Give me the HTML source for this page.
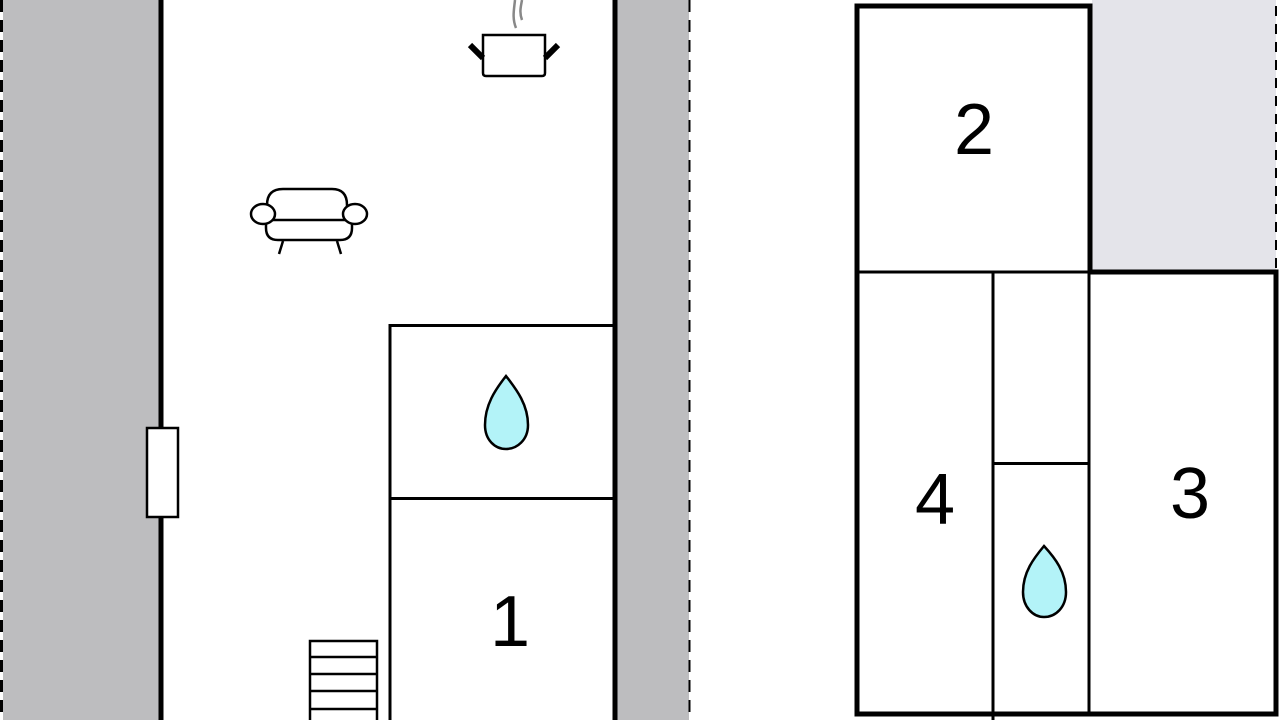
<!DOCTYPE html>
<html><head><meta charset="utf-8"><style>html,body{margin:0;padding:0;background:#fff}svg{display:block}</style></head>
<body>
<svg width="1280" height="720" viewBox="0 0 1280 720" xmlns="http://www.w3.org/2000/svg">
<rect x="0" y="0" width="1280" height="720" fill="#fff"/>
<rect x="3" y="0" width="156" height="720" fill="#bdbdbf"/>
<rect x="617" y="0" width="72" height="720" fill="#bdbdbf"/>
<line x1="1.5" y1="0" x2="1.5" y2="720" stroke="#000" stroke-width="3" stroke-dasharray="12,8"/>
<line x1="689.5" y1="0" x2="689.5" y2="720" stroke="#000" stroke-width="2" stroke-dasharray="12,8"/>
<line x1="161" y1="0" x2="161" y2="720" stroke="#000" stroke-width="5"/>
<line x1="615" y1="0" x2="615" y2="720" stroke="#000" stroke-width="5"/>
<rect x="147" y="428" width="31" height="89" fill="#fff" stroke="#000" stroke-width="2.5"/>
<polyline points="390,720 390,325.5 613,325.5" fill="none" stroke="#000" stroke-width="3"/>
<line x1="390" y1="498.5" x2="613" y2="498.5" stroke="#000" stroke-width="3"/>
<path d="M506,376 C495,390 485,405 485,425 C485,440 495,449 506,449 C517,449 528,440 528,425 C528,405 517,390 506,376 Z" fill="#b3f3f8" stroke="#000" stroke-width="2.5"/>
<text x="510" y="646" font-family="Liberation Sans, sans-serif" font-size="72" text-anchor="middle">1</text>
<g fill="none" stroke="#000" stroke-width="2.5">
<rect x="310" y="641" width="67" height="90"/>
<line x1="310" y1="657" x2="377" y2="657"/>
<line x1="310" y1="674" x2="377" y2="674"/>
<line x1="310" y1="691" x2="377" y2="691"/>
<line x1="310" y1="709" x2="377" y2="709"/>
</g>
<g fill="none">
<path d="M516,28 C512,18 514,10 515,0 M522,20 C519,12 521,6 522,0" stroke="#888" stroke-width="2.5"/>
<path d="M483,35 L545,35 L545,73 Q545,76 542,76 L486,76 Q483,76 483,73 Z" stroke="#000" stroke-width="2.5" fill="#fff"/>
<line x1="470" y1="45" x2="483" y2="58" stroke="#000" stroke-width="6"/>
<line x1="558" y1="45" x2="545" y2="58" stroke="#000" stroke-width="6"/>
</g>
<g fill="#fff" stroke="#000" stroke-width="2.5">
<path d="M267,214 L267,205 Q267,189 283,189 L332,189 Q347,189 347,205 L347,214"/>
<path d="M266,220 L266,228 Q266,240 278,240 L340,240 Q352,240 352,228 L352,220"/>
<line x1="270" y1="220" x2="350" y2="220"/>
<ellipse cx="263" cy="214" rx="12" ry="10"/>
<ellipse cx="355" cy="214" rx="12" ry="10"/>
</g>
<line x1="283" y1="241" x2="279" y2="254" stroke="#000" stroke-width="2.5"/>
<line x1="337" y1="241" x2="341" y2="254" stroke="#000" stroke-width="2.5"/>
<rect x="1092" y="0" width="184" height="270" fill="#e4e4ea"/>
<line x1="1276" y1="6" x2="1276" y2="270" stroke="#000" stroke-width="2" stroke-dasharray="10,8"/>
<g fill="none" stroke="#000">
<path d="M1090,272 L1090,6 L857,6 L857,714 L1276,714 L1276,272 Z" stroke-width="5"/>
<line x1="857" y1="272" x2="1278" y2="272" stroke-width="3"/>
<line x1="1092" y1="272" x2="1278" y2="272" stroke-width="5"/>
<line x1="993" y1="272" x2="993" y2="720" stroke-width="3"/>
<line x1="1089" y1="272" x2="1089" y2="714" stroke-width="3"/>
<line x1="993" y1="463.5" x2="1089" y2="463.5" stroke-width="3"/>
</g>
<path d="M1044,546 C1034,558 1023,572 1023,592 C1023,607 1033,617 1044,617 C1056,617 1066,607 1066,592 C1066,572 1055,558 1044,546 Z" fill="#b3f3f8" stroke="#000" stroke-width="2.5"/>
<text x="974" y="154" font-family="Liberation Sans, sans-serif" font-size="72" text-anchor="middle">2</text>
<text x="935" y="524" font-family="Liberation Sans, sans-serif" font-size="72" text-anchor="middle">4</text>
<text x="1190" y="518" font-family="Liberation Sans, sans-serif" font-size="72" text-anchor="middle">3</text>
</svg>
</body></html>
